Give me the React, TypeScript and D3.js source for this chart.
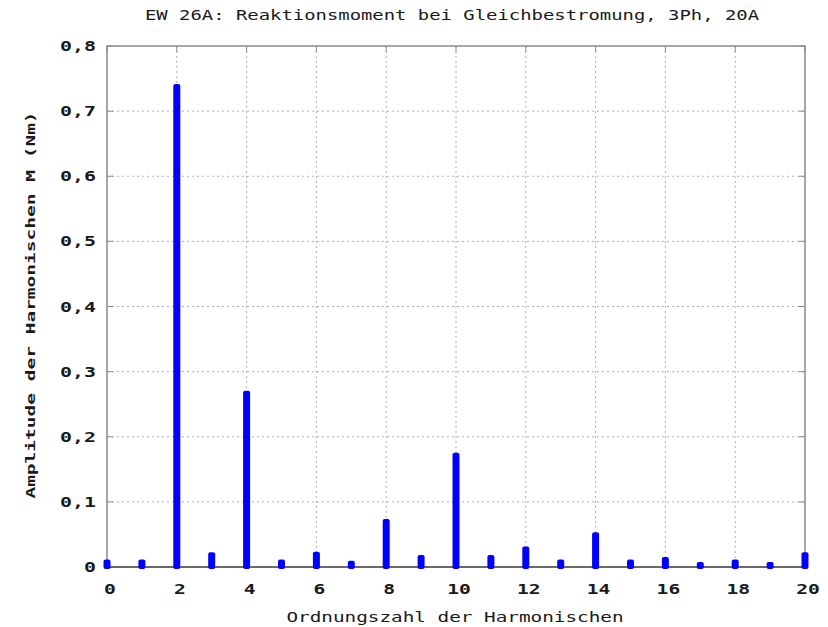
import React from "react";
import * as d3 from "d3";

// Harmonic order numbers and torque amplitudes (Nm)
const orders = [0, 1, 2, 3, 4, 5, 6, 7, 8, 9, 10, 11, 12, 13, 14, 15, 16, 17, 18, 19, 20];
const amplitudes = [0.01, 0.01, 0.74, 0.021, 0.269, 0.01, 0.022, 0.008, 0.072, 0.017, 0.174, 0.017, 0.03, 0.01, 0.052, 0.01, 0.014, 0.006, 0.01, 0.006, 0.021];
const xTicks = [0, 2, 4, 6, 8, 10, 12, 14, 16, 18, 20];
const yTicks = [0, 0.1, 0.2, 0.3, 0.4, 0.5, 0.6, 0.7, 0.8];

const title = "EW 26A: Reaktionsmoment bei Gleichbestromung, 3Ph, 20A";
const xLabel = "Ordnungszahl der Harmonischen";
const yLabel = "Amplitude der Harmonischen M (Nm)";

const W = 828;
const H = 627;
const m = { left: 107, right: 805, top: 46, bottom: 567 };
const font = "'DejaVu Sans Mono', monospace";
const textColor = "#1a1a1a";

// Wide terminal-style lettering: monospace glyphs stretched horizontally
function Wide(props: {
  x: number;
  y: number;
  rotate?: number;
  sx?: number;
  size?: number;
  bold?: boolean;
  anchor?: "start" | "middle" | "end";
  children: React.ReactNode;
}) {
  const { x, y, rotate = 0, sx = 1.35, size = 14, bold = false, anchor = "middle", children } = props;
  return (
    <text
      transform={`translate(${x},${y}) rotate(${rotate}) scale(${sx},1)`}
      textAnchor={anchor}
      fontFamily={font}
      fontSize={size}
      fontWeight={bold ? "bold" : "normal"}
      fill={textColor}
    >
      {children}
    </text>
  );
}

export default function App() {
  const x = d3.scaleLinear().domain([0, 20]).range([m.left, m.right]);
  const y = d3.scaleLinear().domain([0, 0.8]).range([m.bottom, m.top]);
  const fmt = (v: number) => (v === 0 ? "0" : d3.format(".1f")(v).replace(".", ","));
  const barW = 7;
  const axisColor = "#8a8a8a";
  const gridColor = "#b0b0b0";

  return (
    <svg width={W} height={H} style={{ position: "absolute", left: 0, top: 0, background: "#fff" }}>
      {/* grid */}
      {xTicks.slice(1, -1).map((t) => (
        <line key={"gx" + t} x1={x(t)} x2={x(t)} y1={m.top} y2={m.bottom} stroke={gridColor} strokeDasharray="2,3" strokeWidth={1} />
      ))}
      {yTicks.slice(1, -1).map((t) => (
        <line key={"gy" + t} x1={m.left} x2={m.right} y1={y(t)} y2={y(t)} stroke={gridColor} strokeDasharray="2,3" strokeWidth={1} />
      ))}
      {/* frame */}
      <rect x={m.left} y={m.top} width={m.right - m.left} height={m.bottom - m.top} fill="none" stroke={axisColor} strokeWidth={1.5} />
      {/* ticks */}
      {xTicks.map((t) => (
        <g key={"tx" + t}>
          <line x1={x(t)} x2={x(t)} y1={m.top} y2={m.top + 6} stroke={axisColor} />
          <line x1={x(t)} x2={x(t)} y1={m.bottom} y2={m.bottom - 6} stroke={axisColor} />
          <Wide x={x(t) + 3} y={m.bottom + 27} bold sx={1.4}>{t}</Wide>
        </g>
      ))}
      {yTicks.map((t) => (
        <g key={"ty" + t}>
          <line x1={m.left} x2={m.left + 6} y1={y(t)} y2={y(t)} stroke={axisColor} />
          <line x1={m.right} x2={m.right - 6} y1={y(t)} y2={y(t)} stroke={axisColor} />
          <Wide x={m.left - 11} y={y(t) + 5} bold sx={1.42} anchor="end">{fmt(t)}</Wide>
        </g>
      ))}
      {/* zero line */}
      <line x1={m.left} x2={m.right} y1={y(0)} y2={y(0)} stroke="#555" strokeWidth={1.5} />
      {/* bars */}
      {orders.map((o, i) => (
        <rect key={"b" + o} x={x(o) - barW / 2} y={y(amplitudes[i]) - 1} width={barW} height={y(0) - y(amplitudes[i]) + 3} rx={2} fill="#0000ff" />
      ))}
      {/* labels */}
      <Wide x={452} y={20} sx={1.35}>{title}</Wide>
      <Wide x={455} y={622} sx={1.38}>{xLabel}</Wide>
      <Wide x={35} y={305} rotate={-90} sx={1.5} size={13} bold>{yLabel}</Wide>
    </svg>
  );
}
